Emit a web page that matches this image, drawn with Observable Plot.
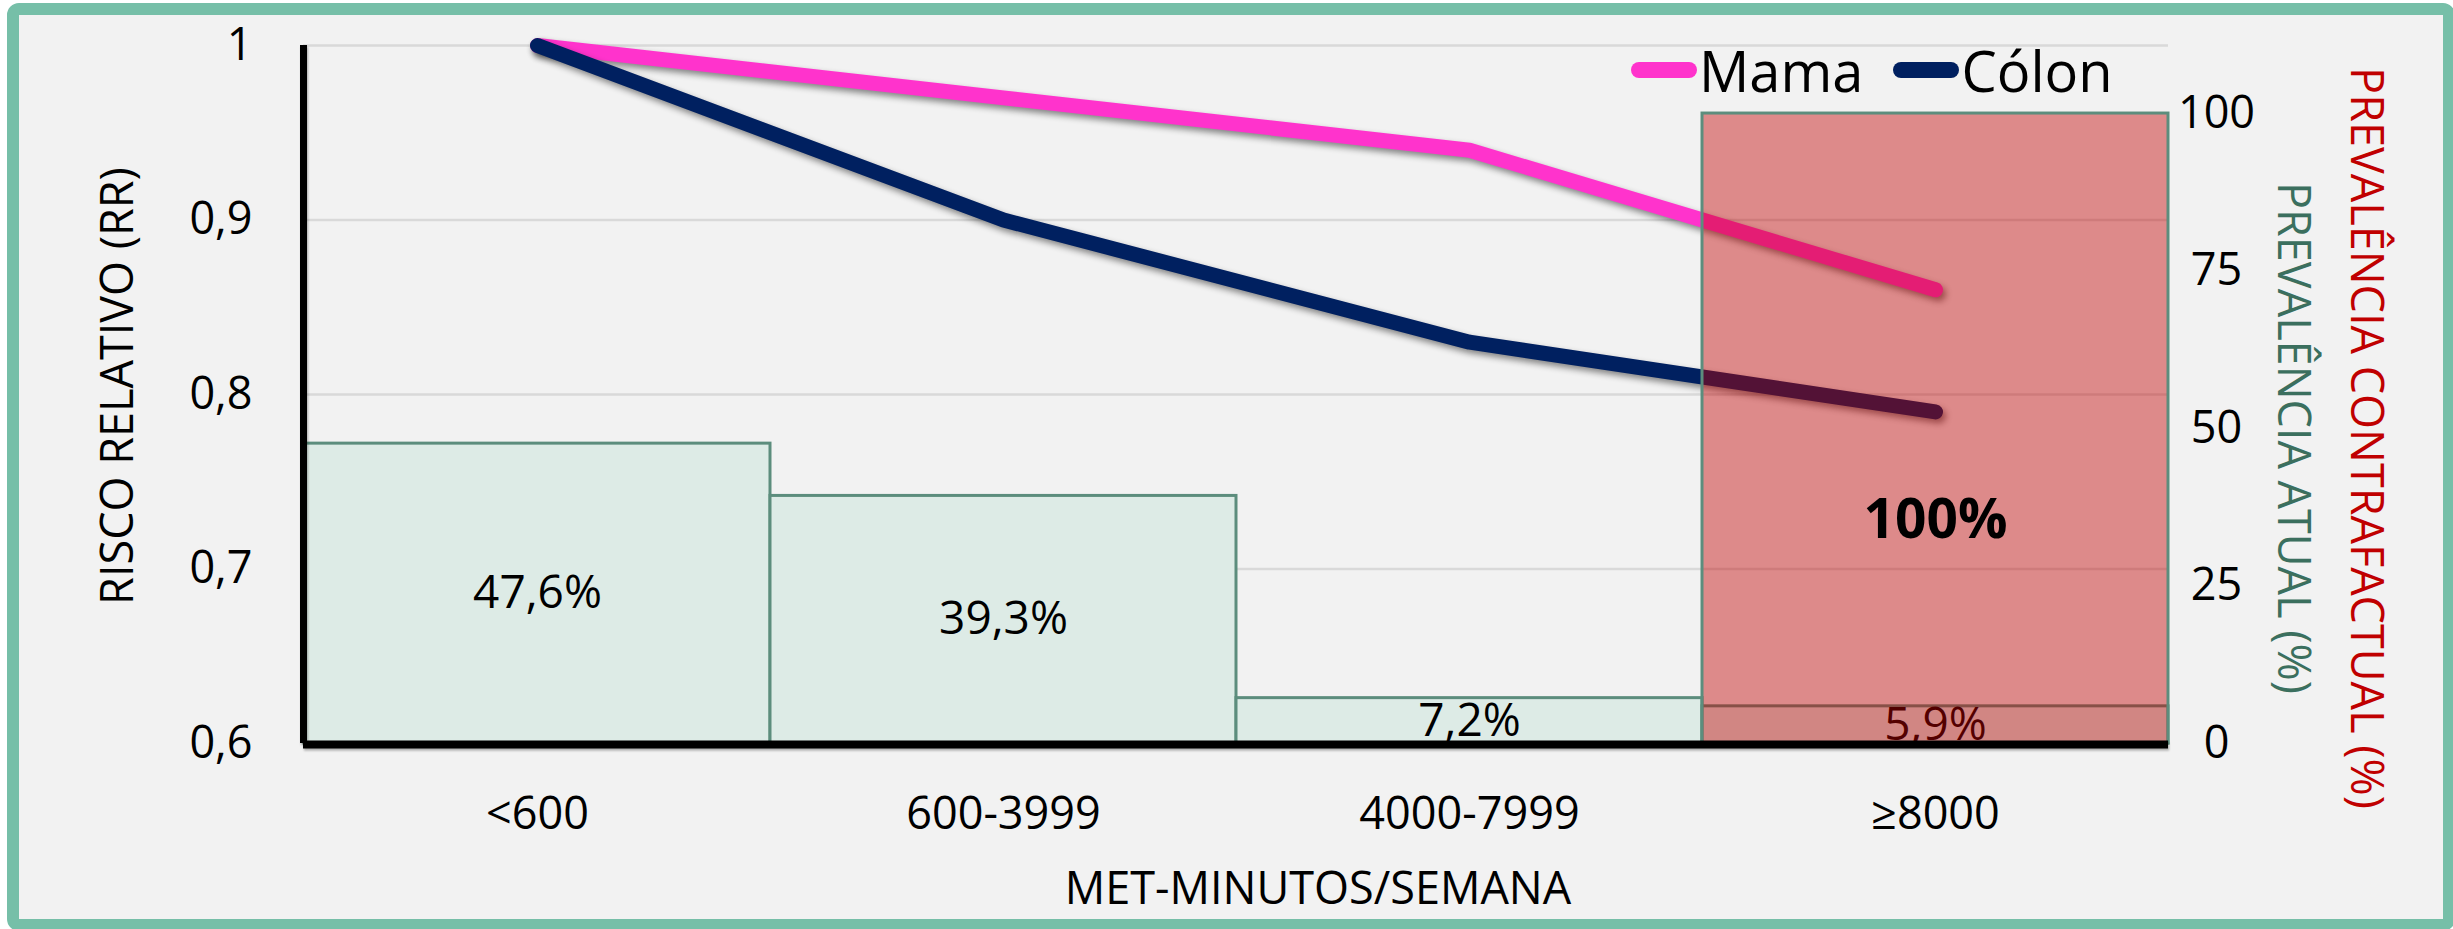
<!DOCTYPE html>
<html lang="pt">
<head>
<meta charset="utf-8">
<script src="https://cdn.jsdelivr.net/npm/d3@7"></script>
<script src="https://cdn.jsdelivr.net/npm/@observablehq/plot@0.6"></script>
<style>
  html, body { margin: 0; padding: 0; background: #ffffff; overflow: hidden; }
  #page { position: relative; width: 2453px; height: 929px; overflow: hidden; font-family: "Open Sans", sans-serif; }
  #frame { position: absolute; left: 7px; top: 3px; width: 2448px; height: 928px; box-sizing: border-box;
           border: 12px solid #76BFA8; border-radius: 12px; background: #F2F2F2; }
  .layer { position: absolute; left: 0; top: 0; width: 2453px; height: 929px; }
  .layer svg { display: block; overflow: visible; max-width: none; }
  .title { position: absolute; white-space: nowrap; font-size: 45px; line-height: 1.362; color: #000; }
  #legend { position: absolute; left: 1631px; top: 70px; transform: translateY(-50%); display: flex; align-items: center; gap: 30px; }
  .item { display: flex; align-items: center; gap: 2px; font-size: 56px; color: #000; }
  .swatch { width: 66px; height: 16px; border-radius: 8px; }
</style>
</head>
<body>
<div id="page">
  <div id="frame"></div>
</div>
<script>
// Risco relativo (RR) de cancro por nível de atividade física (MET-minutos/semana)
const categories = ["<600", "600-3999", "4000-7999", "≥8000"];
const seriesNames = ["Mama", "Cólon"];
const seriesColors = ["#FF33CC", "#002060"];
const rrMama = [1.00, 0.97, 0.94, 0.86];
const rrColon = [1.00, 0.90, 0.83, 0.79];

// Prevalência atual e contrafactual (%) por categoria
const prevAtual = [47.6, 39.3, 7.2, 5.9];
const prevContrafactual = [null, null, null, 100];

// Marcas dos eixos
const rrTicks = [0.6, 0.7, 0.8, 0.9, 1];
const prevTicks = [0, 25, 50, 75, 100];

// Textos
const xTitle = "MET-MINUTOS/SEMANA";
const yTitle = "RISCO RELATIVO (RR)";
const y2Title = "PREVALÊNCIA ATUAL (%)";
const y3Title = "PREVALÊNCIA CONTRAFACTUAL (%)";

const pt = d3.formatLocale({decimal: ",", thousands: ".", grouping: [3], currency: ["", "€"]});
const fmtRR = pt.format("~g");
const fmtPct = (v) => (Number.isInteger(v) ? String(v) : pt.format(".1f")(v)) + "%";

const lineRows = seriesNames.flatMap((s, si) =>
  categories.map((c, i) => ({serie: s, cat: c, rr: (si === 0 ? rrMama : rrColon)[i]})));
const atualRows = categories.map((c, i) => ({cat: c, v: prevAtual[i]}));
const contraRows = categories.map((c, i) => ({cat: c, v: prevContrafactual[i]})).filter((d) => d.v != null);

const W = 2453, H = 929;
const base = {
  width: W, height: H,
  marginTop: 45, marginRight: 285, marginBottom: 186, marginLeft: 303,
  style: {background: "transparent", overflow: "visible", fontFamily: "'Open Sans', sans-serif"}
};
const rrDomain = [0.6, 1];
const prevDomain = [0, 110.8];
const band = {type: "band", domain: categories, padding: 0};
const LINE_WIDTH = 15;

const page = document.getElementById("page");
function addLayer(svg) {
  const wrap = document.createElement("div");
  wrap.className = "layer";
  wrap.appendChild(svg);
  page.appendChild(wrap);
  return svg;
}

// 1: grelha, eixo RR e categorias
addLayer(Plot.plot({
  ...base,
  x: band,
  y: {domain: rrDomain},
  marks: [
    Plot.ruleY(rrTicks, {stroke: "#D9D9D9", strokeWidth: 2.5}),
    Plot.axisY(rrTicks, {anchor: "left", tickSize: 0, tickPadding: 51, tickFormat: fmtRR, fontSize: 45, label: null}),
    Plot.axisX({anchor: "bottom", tickSize: 0, tickPadding: 54, fontSize: 45, label: null})
  ]
}));

// 2: prevalência atual (barras) e eixo secundário
addLayer(Plot.plot({
  ...base,
  x: {...band, axis: null},
  y: {domain: prevDomain},
  marks: [
    Plot.barY(atualRows, {x: "cat", y: "v", fill: "#DDEBE6", stroke: "#5C8D7D", strokeWidth: 3}),
    Plot.text(atualRows, {x: "cat", y: (d) => d.v / 2, text: (d) => fmtPct(d.v), fontSize: 46, fill: "#000"}),
    Plot.axisY(prevTicks, {anchor: "right", tickSize: 0, tickPadding: 48, textAnchor: "middle", fontSize: 45, label: null})
  ]
}));

// 3: curvas de risco relativo
const linesSvg = addLayer(Plot.plot({
  ...base,
  x: {type: "point", domain: categories, padding: 0.5, axis: null},
  y: {domain: rrDomain, axis: null},
  color: {domain: seriesNames, range: seriesColors},
  marks: [
    Plot.line(lineRows, {x: "cat", y: "rr", z: "serie", stroke: "serie", strokeWidth: LINE_WIDTH,
                         strokeLinecap: "round", strokeLinejoin: "round"})
  ]
}));
linesSvg.querySelectorAll("path").forEach((p) => {
  p.style.strokeWidth = LINE_WIDTH + "px";
  p.style.filter = "drop-shadow(3px 4px 3px rgba(0,0,0,0.45))";
});

// 4: prevalência contrafactual (barra translúcida por cima)
addLayer(Plot.plot({
  ...base,
  x: {...band, axis: null},
  y: {domain: prevDomain, axis: null},
  marks: [
    Plot.barY(contraRows, {x: "cat", y: "v", fill: "#C00000", fillOpacity: 0.43, stroke: "#5C8D7D", strokeWidth: 3}),
    Plot.text(contraRows, {x: "cat", y: (d) => d.v / 2, text: (d) => fmtPct(d.v), fontSize: 55,
                           fontWeight: "bold", fill: "#000", dy: 92})
  ]
}));

// 5: linhas dos eixos
const axesSvg = addLayer(Plot.plot({
  ...base,
  x: {domain: [0, 1], axis: null},
  y: {domain: rrDomain, axis: null},
  marks: [
    Plot.ruleY([0.6], {stroke: "#000", strokeWidth: 8, dy: 1}),
    Plot.ruleX([0], {y1: 0.6, y2: 1, stroke: "#000", strokeWidth: 7})
  ]
}));
axesSvg.querySelectorAll("line").forEach((l) => {
  l.style.filter = "drop-shadow(1px 2px 1px rgba(0,0,0,0.3))";
});

// Títulos dos eixos
function addTitle(text, cx, cy, rotate, color) {
  const el = document.createElement("div");
  el.className = "title";
  el.textContent = text;
  el.style.left = cx + "px";
  el.style.top = cy + "px";
  el.style.color = color;
  el.style.transform = `translate(-50%, -50%) rotate(${rotate}deg)`;
  page.appendChild(el);
}
addTitle(yTitle, 116, 386, -90, "#000");
addTitle(xTitle, 1318, 887, 0, "#000");
addTitle(y2Title, 2295, 438, 90, "#3B6F5E");
addTitle(y3Title, 2368, 438, 90, "#C00000");

// Legenda
const legend = document.createElement("div");
legend.id = "legend";
seriesNames.forEach((name, i) => {
  const item = document.createElement("div");
  item.className = "item";
  const sw = document.createElement("span");
  sw.className = "swatch";
  sw.style.background = seriesColors[i];
  const label = document.createElement("span");
  label.textContent = name;
  item.appendChild(sw);
  item.appendChild(label);
  legend.appendChild(item);
});
page.appendChild(legend);
</script>
</body>
</html>
